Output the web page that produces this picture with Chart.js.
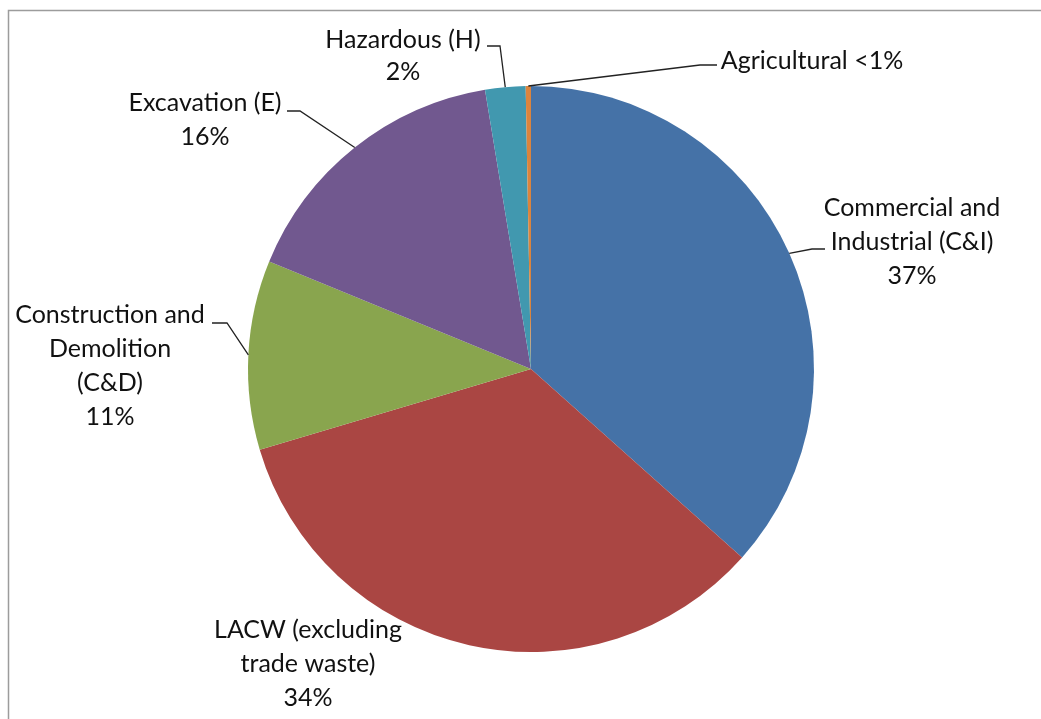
<!DOCTYPE html>
<html>
<head>
<meta charset="utf-8">
<script src="https://cdn.jsdelivr.net/npm/chart.js@4/dist/chart.umd.min.js"></script>
<style>
  html, body { margin: 0; padding: 0; background: #fff; }
  #wrap { width: 1041px; height: 719px; }
</style>
</head>
<body>
<div id="wrap"><canvas id="wasteChart" width="1041" height="719"></canvas></div>
<script>
// waste arisings by source, share of total (%)
const categories = ['Commercial and Industrial (C&I)', 'LACW (excluding trade waste)', 'Construction and Demolition (C&D)', 'Excavation (E)', 'Hazardous (H)', 'Agricultural'];
const labelLines = [
    ['Commercial and', 'Industrial (C&I)'],
    ['LACW (excluding', 'trade waste)'],
    ['Construction and', 'Demolition', '(C&D)'],
    ['Excavation (E)'],
    ['Hazardous (H)'],
    ['Agricultural']
];
const shares = [36.6, 33.8, 10.8, 16.2, 2.3, 0.3];
const sliceColors = ['#4572A7', '#AA4643', '#89A54E', '#71588F', '#4198AF', '#DB843D'];

function pctText(v) {
    return v < 1 ? '<1%' : Math.round(v) + '%';
}

// where Excel put each label (block centre) and the bends of its leader line
const labelLayout = [
    { x: 912, y: 242, leader: [[812, 249], [825, 249]] },
    { x: 308, y: 664, leader: null },
    { x: 110, y: 366, leader: [[227, 323], [212, 323]] },
    { x: 205, y: 120, leader: [[300, 111], [287, 111]] },
    { x: 403, y: 56, leader: [[500, 46], [487, 46]], gap: 32 },
    { x: 812, y: 61, leader: [[700, 65], [717, 65]], inline: true }
];

const frameAndLabels = {
    id: 'frameAndLabels',
    afterDraw(chart) {
        const ctx = chart.ctx;
        ctx.save();
        // chart border (only top and left edges fall inside the crop)
        ctx.strokeStyle = '#9c9c9c';
        ctx.lineWidth = 1.5;
        ctx.beginPath();
        ctx.moveTo(8.5, 719);
        ctx.lineTo(8.5, 10.5);
        ctx.lineTo(1041, 10.5);
        ctx.stroke();

        const meta = chart.getDatasetMeta(0);
        ctx.font = '25px Lato, "Open Sans", sans-serif';
        ctx.fillStyle = '#111';
        ctx.textAlign = 'center';
        ctx.textBaseline = 'middle';
        meta.data.forEach((arc, i) => {
            const lay = labelLayout[i];
            const mid = (arc.startAngle + arc.endAngle) / 2;
            if (lay.leader) {
                ctx.strokeStyle = '#222';
                ctx.lineWidth = 1.3;
                ctx.beginPath();
                ctx.moveTo(arc.x + Math.cos(mid) * arc.outerRadius, arc.y + Math.sin(mid) * arc.outerRadius);
                lay.leader.forEach(p => ctx.lineTo(p[0], p[1]));
                ctx.stroke();
            }
            let lines;
            if (lay.inline) {
                lines = [labelLines[i].join(' ') + ' ' + pctText(shares[i])];
            } else {
                lines = labelLines[i].concat([pctText(shares[i])]);
            }
            const gap = lay.gap || 34;
            lines.forEach((t, k) => {
                ctx.fillText(t, lay.x, lay.y + (k - (lines.length - 1) / 2) * gap);
            });
        });
        ctx.restore();
    }
};

const ctx = document.getElementById('wasteChart').getContext('2d');
const wasteChart = new Chart(ctx, {
    type: 'pie',
    data: {
        labels: categories,
        datasets: [{
            data: shares,
            backgroundColor: sliceColors,
            borderWidth: 0
        }]
    },
    options: {
        responsive: false,
        animation: false,
        layout: {
            padding: { top: 86, bottom: 67, left: 248, right: 227 }
        },
        plugins: {
            legend: { display: false },
            tooltip: { enabled: false }
        }
    },
    plugins: [frameAndLabels]
});
</script>
</body>
</html>
